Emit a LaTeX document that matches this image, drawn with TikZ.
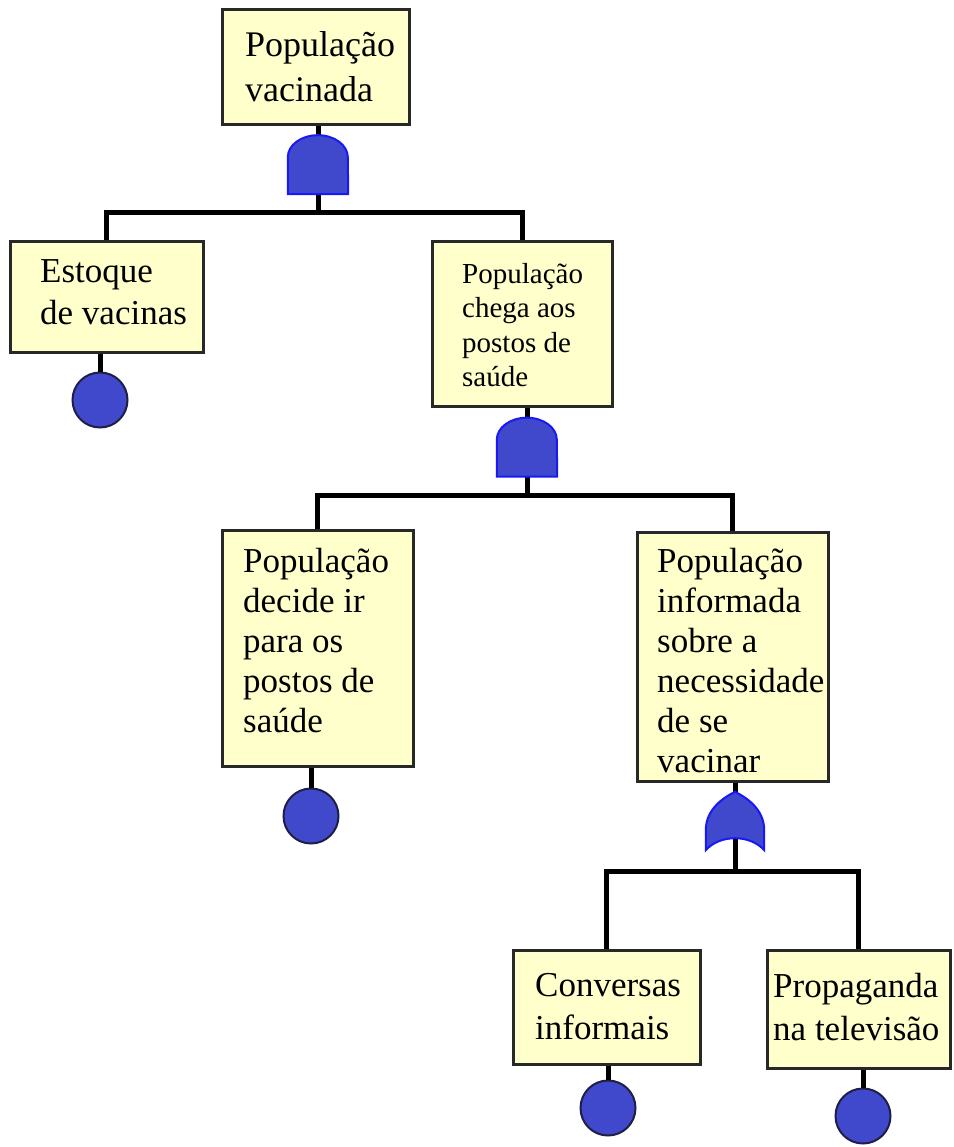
\documentclass[tikz,border=0pt]{standalone}
\usepackage{fontspec}
\setmainfont{Liberation Serif}
\usepackage{xcolor}
\definecolor{ftboxfill}{RGB}{255,255,204}
\definecolor{ftboxline}{RGB}{40,40,40}
\definecolor{ftblue}{RGB}{64,72,204}
\definecolor{ftblueline}{RGB}{25,25,245}
\definecolor{ftcircline}{RGB}{30,30,70}
\tikzset{
  event/.style    = {rectangle, draw=ftboxline, line width=3pt, fill=ftboxfill,
                     inner sep=0pt},
  evtext/.style   = {anchor=north west, align=left, inner sep=0pt, text=black,
                     font=\fontsize{35}{40}\selectfont},
  basic/.style    = {circle, draw=ftcircline, line width=2pt, fill=ftblue,
                     minimum size=55pt, inner sep=0pt},
  gatebox/.style  = {rectangle, inner sep=0pt, minimum width=60pt, minimum height=59pt},
  gatefill/.style = {fill=ftblue, draw=ftblueline, line width=2pt},
  link/.style     = {line width=5pt, draw=black},
}
% gate outlines drawn over the invisible gate nodes
\newcommand{\andgate}[1]{%
  \draw[gatefill] (#1.south west) -- ([yshift=37pt]#1.south west)
    arc[start angle=180, end angle=0, x radius=30pt, y radius=22pt]
    -- (#1.south east) -- cycle;}
\newcommand{\orgate}[1]{%
  \draw[gatefill] (#1.south west) -- ([yshift=20pt]#1.south west)
    .. controls ([yshift=42pt]#1.south west) and ([xshift=-10pt,yshift=-5pt]#1.north) .. (#1.north)
    .. controls ([xshift=10pt,yshift=-5pt]#1.north) and ([yshift=42pt]#1.south east) .. ([yshift=20pt]#1.south east)
    -- (#1.south east)
    .. controls ([xshift=-14pt,yshift=16pt]#1.south east) and ([xshift=14pt,yshift=16pt]#1.south west) .. cycle;}

\begin{document}
\begin{tikzpicture}[x=1pt, y=-1pt]
\useasboundingbox (0,0) rectangle (953,1147);

% ---------- Events ----------
\node[event, minimum width=187pt, minimum height=115pt] (b1) at (315.5,67.5) {};
\node[event, minimum width=193pt, minimum height=110pt] (b2) at (106.5,297) {};
\node[event, minimum width=180pt, minimum height=164pt] (b3) at (522,324) {};
\node[event, minimum width=191pt, minimum height=236pt] (b4) at (317.5,648) {};
\node[event, minimum width=191pt, minimum height=249pt] (b5) at (732.5,656.5) {};
\node[event, minimum width=187pt, minimum height=114pt] (b6) at (606.5,1007) {};
\node[event, minimum width=183pt, minimum height=118pt] (b7) at (858.5,1009) {};

\node[evtext, font=\fontsize{36}{45}\selectfont] (t1) at (245,31) {População\\vacinada};
\node[evtext, font=\fontsize{35}{42}\selectfont] (t2) at (40,259) {Estoque\\de vacinas};
\node[evtext, font=\fontsize{29}{34.5}\selectfont] (t3) at (462,263) {População\\chega aos\\postos de\\saúde};
\node[evtext] (t4) at (243,548) {População\\decide ir\\para os\\postos de\\saúde};
\node[evtext] (t5) at (657,548) {População\\informada\\sobre a\\necessidade\\de se\\vacinar};
\node[evtext, font=\fontsize{35}{43}\selectfont] (t6) at (535,973) {Conversas\\informais};
\node[evtext, font=\fontsize{35}{43}\selectfont] (t7) at (773,973) {Propaganda\\na televisão};

% ---------- Basic events ----------
\node[basic] (c2) at (100,400) {};
\node[basic] (c4) at (311,816) {};
\node[basic] (c6) at (608,1108) {};
\node[basic] (c7) at (863,1116) {};

% ---------- Gates ----------
\node[gatebox] (g1) at (318,164.5) {};
\node[gatebox] (g2) at (527,447) {};
\node[gatebox, minimum width=58pt, minimum height=58pt] (g3) at (735,821) {};

\coordinate (j1) at (318,213);
\coordinate (j2) at (527,495);
\coordinate (j3) at (735,871);

% ---------- Links ----------
\draw[link] (g1 |- b1.south) -- (g1.center) -- (j1);
\draw[link] (b2.north) |- (j1) -| (b3.north);
\draw[link] (g2 |- b3.south) -- (g2.center) -- (j2);
\draw[link] (b4.north) |- (j2) -| (b5.north);
\draw[link] (g3 |- b5.south) -- (g3.center) -- (j3);
\draw[link] (b6.north) |- (j3) -| (b7.north);
\draw[link] (c2.north |- b2.south) -- (c2.north);
\draw[link] (c4.north |- b4.south) -- (c4.north);
\draw[link] (c6.north |- b6.south) -- (c6.north);
\draw[link] (c7.north |- b7.south) -- (c7.north);

\andgate{g1}
\andgate{g2}
\orgate{g3}

\end{tikzpicture}
\end{document}
